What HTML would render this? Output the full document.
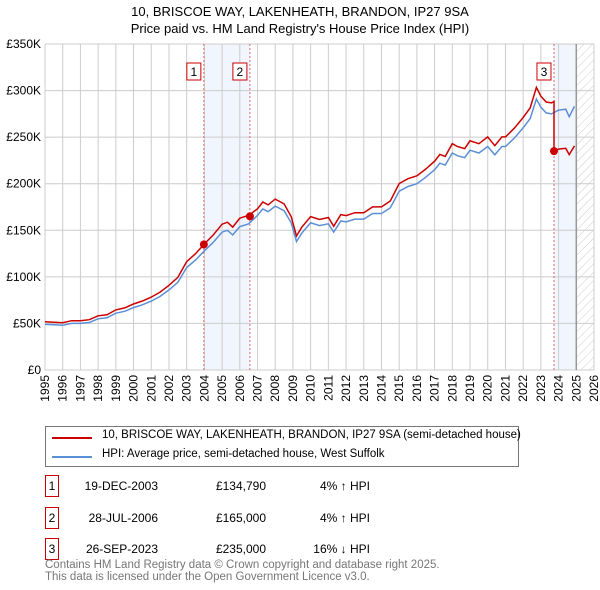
<!DOCTYPE html>
<html><head><meta charset="utf-8"><style>
body{margin:0;background:#fff;font-family:"Liberation Sans","DejaVu Sans",sans-serif;}
#wrap{position:relative;width:600px;height:590px;overflow:hidden}
.t{position:absolute;font-size:12px;color:#000;white-space:nowrap}
</style></head><body><div id="wrap">
<svg id="svg" width="600" height="590" style="position:absolute;left:0;top:0">
<defs><pattern id="hatch" width="6" height="6" patternUnits="userSpaceOnUse" patternTransform="rotate(45)"><line x1="0" y1="0" x2="0" y2="6" stroke="#ccc" stroke-width="1"/></pattern></defs>
<text x="300" y="16" text-anchor="middle" font-size="13" font-family="Liberation Sans, sans-serif">10, BRISCOE WAY, LAKENHEATH, BRANDON, IP27 9SA</text>
<text x="300" y="33" text-anchor="middle" font-size="13" font-family="Liberation Sans, sans-serif">Price paid vs. HM Land Registry's House Price Index (HPI)</text>
<g id="plot"></g>
</svg>
<div style="position:absolute;left:45px;top:426px;width:474px;height:41px;border:1px solid #777;box-sizing:border-box">
<div style="position:absolute;left:6px;top:10px;width:40px;height:2px;background:#cc0000"></div>
<div class="t" style="left:56px;top:2px;font-size:11.5px">10, BRISCOE WAY, LAKENHEATH, BRANDON, IP27 9SA (semi-detached house)</div>
<div style="position:absolute;left:6px;top:29px;width:40px;height:2px;background:#5b8fd6"></div>
<div class="t" style="left:56px;top:21px;font-size:11.5px">HPI: Average price, semi-detached house, West Suffolk</div>
</div>
<div id="rows"></div>
<div class="t" style="left:45px;top:559px;color:#777;font-size:11.5px;line-height:12px">Contains HM Land Registry data © Crown copyright and database right 2025.<br>This data is licensed under the Open Government Licence v3.0.</div>
</div>
<script>
const hpiYears=[1995,1995.5,1996,1996.5,1997,1997.5,1998,1998.5,1999,1999.5,2000,2000.5,2001,2001.5,2002,2002.5,2003,2003.5,2004,2004.5,2005,2005.3,2005.6,2006,2006.5,2007,2007.3,2007.6,2008,2008.5,2008.9,2009.2,2009.5,2010,2010.5,2011,2011.3,2011.7,2012,2012.5,2013,2013.5,2014,2014.5,2015,2015.5,2016,2016.5,2017,2017.3,2017.6,2018,2018.3,2018.7,2019,2019.5,2020,2020.4,2020.8,2021,2021.5,2022,2022.4,2022.75,2023,2023.3,2023.6,2024,2024.4,2024.6,2024.9];
const hpiValues=[49,48.5,48,50,50,51,55,56,61,63,67,70,74,79,86,94,110,118,128,137,148,150,145,154,157,166,173,170,176,171,158,138,147,158,155,157,148,160,159,162,162,168,168,174,192,197,200,207,215,222,220,233,230,228,236,233,240,231,240,240,249,260,270,291,282,276,275,279,280,272,283];
const saleLabels=["1","2","3"];
const saleYears=[2003.97,2006.57,2023.74];
const salePrices=[134.79,165,235];
const saleDates=["19-DEC-2003","28-JUL-2006","26-SEP-2023"];
const salePriceText=["£134,790","£165,000","£235,000"];
const saleDiffText=["4% ↑ HPI","4% ↑ HPI","16% ↓ HPI"];
const yTicks=[0,50,100,150,200,250,300,350];
const yTickLabels=["£0","£50K","£100K","£150K","£200K","£250K","£300K","£350K"];
const xTicks=[1995,1996,1997,1998,1999,2000,2001,2002,2003,2004,2005,2006,2007,2008,2009,2010,2011,2012,2013,2014,2015,2016,2017,2018,2019,2020,2021,2022,2023,2024,2025,2026];

const L=45,R=594,T=44,B=370;
const X=y=>L+(y-1995)/(2026-1995)*(R-L);
const Y=v=>B-v/350*(B-T);
const NS="http://www.w3.org/2000/svg";
const g=document.getElementById('plot');
function mk(tag,attrs,parent){const e=document.createElementNS(NS,tag);for(const k in attrs)e.setAttribute(k,attrs[k]);(parent||g).appendChild(e);return e;}
function hpiAt(t){for(let i=0;i<hpiYears.length-1;i++){if(t<=hpiYears[i+1]){const f=(t-hpiYears[i])/(hpiYears[i+1]-hpiYears[i]);return hpiValues[i]+f*(hpiValues[i+1]-hpiValues[i]);}}return hpiValues[hpiValues.length-1];}
// shaded bands
let e=mk('rect',{x:X(saleYears[0]),y:T,width:X(saleYears[1])-X(saleYears[0]),height:B-T,fill:'#eef3fc',opacity:0.8});


e=mk('rect',{x:X(saleYears[2]),y:T,width:X(2025)-X(saleYears[2]),height:B-T,fill:'#eef3fc',opacity:0.8});


e=mk('rect',{x:X(2025),y:T,width:R-X(2025),height:B-T,fill:'url(#hatch)'});


// grid
yTicks.forEach((v,i)=>{
 const l=mk('line',{x1:L,x2:R,y1:Y(v),y2:Y(v),stroke:'#ccc','stroke-width':1});
 
 
 const t=mk('text',{x:L-4,y:Y(v)+4,'text-anchor':'end','font-size':12,'font-family':'Liberation Sans, sans-serif'});
 t.textContent=yTickLabels[i];
 
 
});
xTicks.forEach(yr=>{
 const l=mk('line',{x1:X(yr),x2:X(yr),y1:T,y2:B,stroke:'#ccc','stroke-width':1});
 
 
 const t=mk('text',{x:0,y:0,'text-anchor':'end','font-size':12,'font-family':'Liberation Sans, sans-serif',transform:`translate(${X(yr)+4},${B+5}) rotate(-90)`});
 t.textContent=yr;
 
 
});
e=mk('line',{x1:X(2025),x2:X(2025),y1:T,y2:B,stroke:'#999','stroke-width':1.5});


// sale vlines and labels
saleYears.forEach((sy,i)=>{
 const l=mk('line',{x1:X(sy),x2:X(sy),y1:T,y2:B,stroke:'#e06666','stroke-width':1,'stroke-dasharray':'2,2'});
 
 
 const r=mk('rect',{x:X(sy)-17,y:63,width:14,height:17,fill:'#fff',stroke:'#cc0000'});
 
 
 const t=mk('text',{x:X(sy)-10,y:76,'text-anchor':'middle','font-size':12,'font-family':'Liberation Sans, sans-serif'});
 t.textContent=saleLabels[i];
 
 
});
// HPI line
let pts=hpiYears.map((y,i)=>X(y).toFixed(1)+','+Y(hpiValues[i]).toFixed(1)).join(' ');
e=mk('polyline',{points:pts,fill:'none',stroke:'#5b8fd6','stroke-width':1.5});


// price line: HPI indexed from each sale
const ratios=saleYears.map((sy,i)=>salePrices[i]/hpiAt(sy));
let rp=[];
hpiYears.forEach((y,i)=>{
 let k=0;for(let j=0;j<saleYears.length;j++)if(y>=saleYears[j])k=j;
 if(i>0&&hpiYears[i-1]<saleYears[2]&&y>=saleYears[2]){
  rp.push([saleYears[2],hpiAt(saleYears[2])*ratios[1]]);
  rp.push([saleYears[2],salePrices[2]]);
 }
 rp.push([y,hpiValues[i]*ratios[k]]);
});
e=mk('polyline',{points:rp.map(p=>X(p[0]).toFixed(1)+','+Y(p[1]).toFixed(1)).join(' '),fill:'none',stroke:'#cc0000','stroke-width':1.5});


saleYears.forEach((sy,i)=>{
 const c=mk('circle',{cx:X(sy),cy:Y(salePrices[i]),r:4,fill:'#cc0000'});
 
 
});
// table rows
const rows=document.getElementById('rows');
const rowY=[475,507,538];
saleYears.forEach((sy,i)=>{
 const d=document.createElement('div');
 
 
 d.style.cssText=`position:absolute;left:0;top:${rowY[i]}px;width:600px;height:24px`;
 d.innerHTML=`<div style="position:absolute;left:45px;top:0;width:14px;height:22px;border:1px solid #cc0000;box-sizing:border-box;font-size:12px;text-align:center;line-height:20px">${saleLabels[i]}</div>
 <div class="t" style="left:0;width:158px;text-align:right;top:4px">${saleDates[i]}</div>
 <div class="t" style="left:200px;width:66px;text-align:right;top:4px">${salePriceText[i]}</div>
 <div class="t" style="left:300px;width:70px;text-align:right;top:4px">${saleDiffText[i]}</div>`;
 rows.appendChild(d);
});
</script></body></html>
